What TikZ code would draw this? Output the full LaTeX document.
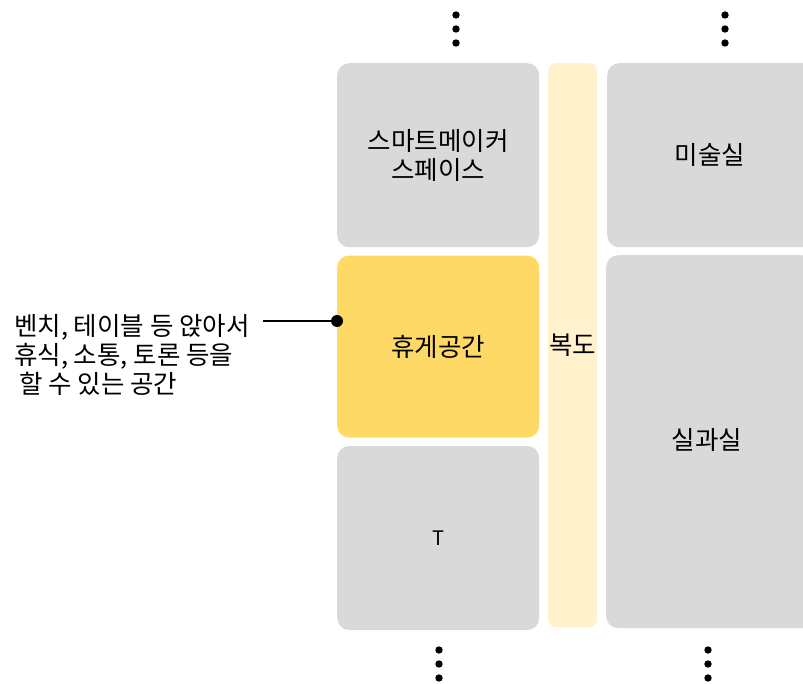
\documentclass[tikz,border=0pt]{standalone}
\usepackage{fontspec}
\setmainfont{Noto Sans CJK KR}
\usetikzlibrary{positioning}
\definecolor{roomgray}{HTML}{D9D9D9}
\definecolor{restyellow}{HTML}{FFD966}
\definecolor{hallyellow}{HTML}{FFF2CC}

\begin{document}
\begin{tikzpicture}[
  x=1pt, y=-1pt,
  node distance=8pt and 9pt,
  every node/.style={font=\fontsize{25.5}{29}\selectfont, inner sep=0pt},
  room/.style={fill=roomgray, rounded corners=12pt, minimum width=202pt,
               minimum height=184pt, align=center},
  rest/.style={room, fill=restyellow, minimum height=182pt},
  hall/.style={fill=hallyellow, rounded corners=8pt, minimum width=49pt,
               minimum height=564pt},
  pin/.style={line width=2pt, color=black}
]
\useasboundingbox (0,0) rectangle (803,684);

% left column
\node[room, anchor=north west] (smart) at (337,63) {스마트메이커\\스페이스};
\node[rest, below=of smart] (lounge) {휴게공간};
\node[room, below=of lounge] (tee) {\fontsize{20}{22}\selectfont T};

% corridor
\node[hall, anchor=north west] (hall) at (548,63) {};
\node at (hall.center) (hallname) {복도};

% right column
\node[room, anchor=north west, minimum width=208pt] (art) at (607,63) {};
\node at (710,155) (artname) {미술실};
\node[room, anchor=north west, minimum width=208pt, minimum height=373pt] (tech) at (606,255) {};
\node at (707,440) (techname) {실과실};

% more rooms above and below
\foreach \x/\y in {456/15, 725/15, 439/650, 708/650}
  \foreach \k in {0,14,28}
    \fill (\x,\y+\k) circle (3.7pt);

% note
\node[anchor=north west, align=left] (note) at (14,314)
  {벤치, 테이블 등 앉아서\\휴식, 소통, 토론 등을\\\hspace{5pt}할 수 있는 공간};
\coordinate (tail) at (263,321);
\coordinate (dot) at (lounge.west |- tail);
\draw[pin] (tail) -- (dot);
\fill (dot) circle (6pt);
\end{tikzpicture}
\end{document}
